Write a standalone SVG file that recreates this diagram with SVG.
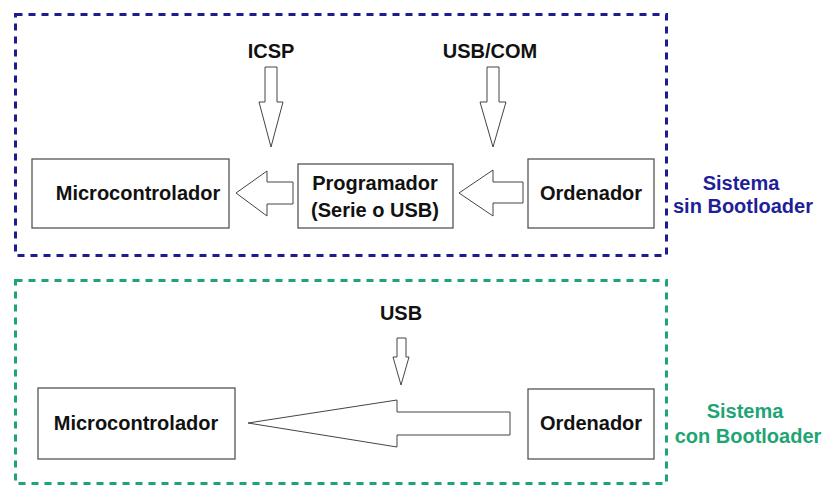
<svg xmlns="http://www.w3.org/2000/svg" width="825" height="488" viewBox="0 0 825 488">
<style>
.box{fill:#fff;stroke:#555;stroke-width:1.3}
.arr{fill:#fff;stroke:#444;stroke-width:1}
.t{font-family:"Liberation Sans",Arial,sans-serif;font-weight:bold;font-size:20px;fill:#111;text-anchor:middle}
.frame{fill:none;stroke-width:3;stroke-dasharray:7 6}
.blue{fill:#1f1f99}
.green{fill:#1fa474}
</style>
<rect width="825" height="488" fill="#fff"/>
<g id="frame-sin">
<rect class="frame" x="15.5" y="14.5" width="651" height="241" stroke="#1c1c8e"/>
</g>
<g id="frame-con">
<rect class="frame" x="15.5" y="280.5" width="651" height="203" stroke="#1fa474"/>
</g>
<g id="micro1"><rect class="box" x="32" y="159" width="197" height="69"/><text class="t" x="138" y="200">Microcontrolador</text></g>
<g id="prog"><rect class="box" x="298" y="164" width="155" height="64"/><text class="t" x="375" y="190">Programador</text><text class="t" x="375" y="217">(Serie o USB)</text></g>
<g id="orden1"><rect class="box" x="528" y="159" width="126" height="69"/><text class="t" x="591" y="200">Ordenador</text></g>
<g id="micro2"><rect class="box" x="38" y="388" width="197" height="71"/><text class="t" x="136" y="430">Microcontrolador</text></g>
<g id="orden2"><rect class="box" x="528" y="389" width="126" height="70"/><text class="t" x="591" y="430">Ordenador</text></g>
<g id="labels">
<text class="t" x="271" y="58">ICSP</text>
<text class="t" x="490" y="58">USB/COM</text>
<text class="t" x="401" y="320">USB</text>
<text class="t blue" x="741" y="190">Sistema</text>
<text class="t blue" x="743" y="213">sin Bootloader</text>
<text class="t green" x="745" y="418">Sistema</text>
<text class="t green" x="748" y="443">con Bootloader</text>
</g>
<g id="connectors">
<polygon class="arr" points="265,67 277,67 277,102 283,102 271,147 259,102 265,102"/>
<polygon class="arr" points="487,67 499,67 499,102 506,102 493,147 480,102 487,102"/>
<polygon class="arr" points="293,182 293,204 267,204 267,216 236,193 267,171 267,182"/>
<polygon class="arr" points="523,182 523,203 493,203 493,216 459,193 493,170 493,182"/>
<polygon class="arr" points="397,338 406,338 406,357 409,357 401,385 393,357 397,357"/>
<polygon class="arr" points="510,412 510,435 397,435 397,447 248,423 397,400 397,412"/>
</g>
</svg>
